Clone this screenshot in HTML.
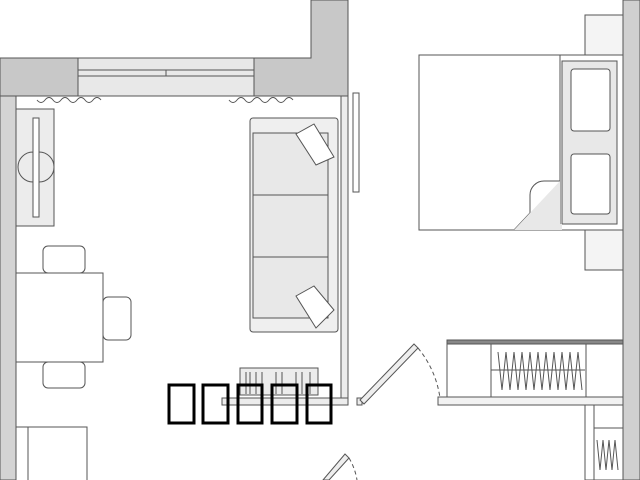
<!DOCTYPE html>
<html><head><style>body{margin:0;background:#fff}svg{display:block}</style></head><body>
<svg width="640" height="480" viewBox="0 0 640 480" xmlns="http://www.w3.org/2000/svg" fill="none" stroke="#555" stroke-width="1">
<rect width="640" height="480" fill="#fff" stroke="none"/>
<!-- walls -->
<path d="M0 58H311V0H348V96H0Z" fill="#c8c8c8"/>
<rect x="78" y="58" width="176" height="38" fill="#e8e8e8"/>
<line x1="78" y1="70" x2="254" y2="70"/><line x1="78" y1="76" x2="254" y2="76"/><line x1="166" y1="70" x2="166" y2="76"/>
<rect x="0" y="96" width="16" height="384" fill="#d4d4d4"/>
<rect x="341" y="96" width="7" height="302" fill="#ececec"/>
<rect x="623" y="0" width="17" height="480" fill="#d0d0d0"/>
<!-- curtains -->
<path d="M37 100q4 5 8 0t8 0t8 0t8 0t8 0t8 0t8 0t8 0" stroke="#555"/>
<path d="M229 100q4 5 8 0t8 0t8 0t8 0t8 0t8 0t8 0t8 0" stroke="#555"/>
<!-- TV console -->
<rect x="16" y="109" width="38" height="117" fill="#ececec"/>
<rect x="33" y="118" width="6" height="99" fill="#fff"/>
<path d="M33 130v75M33 152a12 12 0 0 0 0 30M39 152a12 12 0 0 1 0 30"/>
<!-- sofa -->
<rect x="250" y="118" width="88" height="214" rx="3" fill="#efefef"/>
<rect x="253" y="133" width="75" height="62" fill="#e8e8e8"/>
<rect x="253" y="195" width="75" height="62" fill="#e8e8e8"/>
<rect x="253" y="257" width="75" height="61" fill="#e8e8e8"/>
<path d="M296 134l18-10 20 33-18 8z" fill="#fff"/>
<path d="M296 296l18-10 20 24-18 18z" fill="#fff"/>
<!-- bedroom TV -->
<rect x="353" y="93" width="6" height="99" fill="#fff"/>
<!-- dining -->
<rect x="43" y="246" width="42" height="27" rx="5" fill="#fff"/>
<rect x="103" y="297" width="28" height="43" rx="5" fill="#fff"/>
<rect x="43" y="362" width="42" height="26" rx="5" fill="#fff"/>
<rect x="16" y="273" width="87" height="89" fill="#fff"/>
<rect x="16" y="427" width="71" height="60" fill="#fff"/><line x1="28" y1="427" x2="28" y2="480"/>
<!-- bookshelf -->
<rect x="240" y="368" width="78" height="27" fill="#ececec"/>
<path d="M246 372v22M250 372v22M256 372v22M262 372v22M276 372v22M282 372v22M296 372v22M302 372v22M310 372v22"/>
<rect x="222" y="398" width="126" height="7" fill="#ececec"/>
<rect x="357" y="398" width="5" height="7" fill="#ececec"/>
<!-- black rects -->
<g stroke="#000" stroke-width="3">
<rect x="169" y="385" width="25" height="38"/><rect x="203" y="385" width="25" height="38"/><rect x="238" y="385" width="24" height="38"/><rect x="272" y="385" width="25" height="38"/><rect x="307" y="385" width="24" height="38"/>
</g>
<!-- door -->
<path d="M360 400l54-56 4 4-54 56z" fill="#eee"/>
<path d="M418 348q18 22 22 50" stroke-dasharray="4 3"/>
<path d="M323 480l22-26 4 4-20 22z" fill="#eee"/>
<path d="M349 458q6 10 8 22" stroke-dasharray="4 3"/>
<!-- closet -->
<rect x="438" y="397" width="185" height="8" fill="#f2f2f2"/>
<rect x="447" y="340" width="176" height="57" fill="#fff"/>
<rect x="447" y="340" width="176" height="4" fill="#888"/>
<path d="M491 344v53M586 344v53M491 370h94"/>
<path d="M498 352l4 38 4-38 4 38 4-38 4 38 4-38 4 38 4-38 4 38 4-38 4 38 4-38 4 38 4-38 4 38 4-38 4 38 4-38 4 38 4-38 4 38"/>
<rect x="585" y="405" width="38" height="75" fill="#fff"/><path d="M594 405v75M594 428h29"/>
<path d="M597 440l3 30 3-30 3 30 3-30 3 30 3-30 3 30"/>
<!-- bedroom -->
<rect x="585" y="15" width="38" height="40" fill="#f4f4f4"/>
<rect x="585" y="230" width="38" height="40" fill="#f4f4f4"/>
<rect x="419" y="55" width="204" height="175" fill="#fff"/>
<rect x="560" y="55" width="63" height="175" fill="#fff"/>
<rect x="562" y="61" width="55" height="163" fill="#e8e8e8"/>
<path d="M560 55v126l-46 49" />
<path d="M560 181h-16a14 14 0 0 0-14 14v35" fill="#fff"/>
<path d="M514 230l46-49v43h2v6z" fill="#e8e8e8" stroke="none"/>
<rect x="571" y="69" width="39" height="62" rx="3" fill="#fff"/>
<rect x="571" y="154" width="39" height="60" rx="3" fill="#fff"/>
</svg>
</body></html>
